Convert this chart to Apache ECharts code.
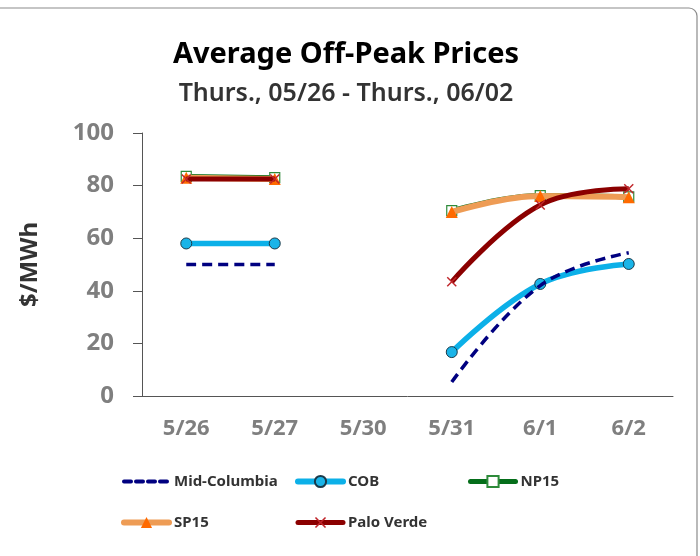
<!DOCTYPE html>
<html>
<head>
<meta charset="utf-8">
<script src="https://cdn.jsdelivr.net/npm/echarts@6/dist/echarts.min.js"></script>
<style>html,body{margin:0;padding:0;background:#fff;}#c{width:700px;height:556px;}</style>
</head>
<body>
<div id="c"></div>
<script>
var categories = ['5/26', '5/27', '5/30', '5/31', '6/1', '6/2'];
var midColumbia = [50, 50, null, 5.3, 42, 54.5];
var cob = [58, 58, null, 16.7, 42.6, 50.2];
var np15 = [83.5, 83, null, 70.5, 76.2, 75.7];
var sp15 = [83, 82.5, null, 70, 76, 75.6];
var paloVerde = [82.5, 82.5, null, 43.4, 72.6, 78.8];
var yTicks = [0, 20, 40, 60, 80, 100];

var FONT = '"Noto Sans", sans-serif';
var xPath = 'path://M0,1L1,0L5,4L9,0L10,1L6,5L10,9L9,10L5,6L1,10L0,9L4,5Z';

var legendCommon = {
  orient: 'vertical', top: 474, padding: 0, itemWidth: 45, itemHeight: 14, itemGap: 26,
  textStyle: {fontFamily: FONT, fontSize: 15, fontWeight: 'bold', color: '#333'}
};
function mkLegend(left, data) {
  var o = {};
  for (var k in legendCommon) o[k] = legendCommon[k];
  o.left = left; o.data = data;
  return o;
}

var chart = echarts.init(document.getElementById('c'));
chart.setOption({
  animation: false,
  backgroundColor: '#fff',
  graphic: [{
    type: 'rect', shape: {x: -10, y: 8, width: 707, height: 620, r: 8},
    style: {fill: 'none', stroke: '#8c8c8c', lineWidth: 1.2}, silent: true
  }],
  title: {
    text: 'Average Off-Peak Prices',
    subtext: 'Thurs., 05/26 - Thurs., 06/02',
    left: 341, textAlign: 'center', top: 35, itemGap: 12,
    textStyle: {fontFamily: FONT, fontSize: 29, fontWeight: 'bold', color: '#000'},
    subtextStyle: {fontFamily: FONT, fontSize: 25, fontWeight: 600, color: '#333'}
  },
  grid: {left: 142, right: 27, top: 133, bottom: 160},
  xAxis: {
    type: 'category', data: categories, boundaryGap: true,
    axisLine: {lineStyle: {color: '#555', width: 1}},
    axisTick: {alignWithLabel: true, length: 6, inside: false, lineStyle: {color: '#555'}},
    axisLabel: {fontFamily: FONT, fontSize: 22, fontWeight: 'bold', color: '#7f7f7f', margin: 22}
  },
  yAxis: {
    type: 'value', min: yTicks[0], max: yTicks[yTicks.length - 1], interval: 20,
    name: '$/MWh', nameLocation: 'middle', nameRotate: 90, nameGap: 100,
    nameTextStyle: {fontFamily: FONT, fontSize: 24, fontWeight: 'bold', color: '#333'},
    splitLine: {show: false},
    axisLine: {show: true, lineStyle: {color: '#555', width: 1}},
    axisTick: {show: true, length: 9, lineStyle: {color: '#555'}},
    axisLabel: {fontFamily: FONT, fontSize: 24, fontWeight: 'bold', color: '#7f7f7f', margin: 28}
  },
  legend: [
    mkLegend(121, [{name: 'Mid-Columbia', itemStyle: {opacity: 0}, lineStyle: {width: 4, type: [7, 5], cap: 'round'}},
                   {name: 'SP15', lineStyle: {width: 6, cap: 'round'}}]),
    mkLegend(295, [{name: 'COB', lineStyle: {width: 6, cap: 'round'}},
                   {name: 'Palo Verde', lineStyle: {width: 5, cap: 'round'}}]),
    mkLegend(468, [{name: 'NP15', lineStyle: {width: 5, cap: 'round'}}])
  ],
  series: [
    {name: 'Mid-Columbia', type: 'line', data: midColumbia, smooth: 0.4, connectNulls: false,
     symbol: 'none', lineStyle: {color: '#000080', width: 3.5, type: [10, 6]}, itemStyle: {color: '#000080'}, z: 5},
    {name: 'COB', type: 'line', data: cob, smooth: 0.4, connectNulls: false,
     symbol: 'circle', symbolSize: 11, showAllSymbol: true,
     lineStyle: {color: '#0CB0E8', width: 5.5}, itemStyle: {color: '#1AB4E8', borderColor: '#1a3a4a', borderWidth: 1}, z: 4},
    {name: 'NP15', type: 'line', data: np15, smooth: 0.4, connectNulls: false,
     symbol: 'rect', symbolSize: 10,
     lineStyle: {color: '#056E1A', width: 5}, itemStyle: {color: '#fff', borderColor: '#2E8B3A', borderWidth: 1.2}, z: 3},
    {name: 'SP15', type: 'line', data: sp15, smooth: 0.4, connectNulls: false,
     symbol: 'triangle', symbolSize: 12,
     lineStyle: {color: '#EE9C55', width: 6}, itemStyle: {color: '#FF6A00'}, z: 4},
    {name: 'Palo Verde', type: 'line', data: paloVerde, smooth: 0.4, connectNulls: false,
     symbol: xPath, symbolSize: 10,
     lineStyle: {color: '#8B0000', width: 5}, itemStyle: {color: '#C0252A'}, z: 5}
  ]
});
</script>
</body>
</html>
